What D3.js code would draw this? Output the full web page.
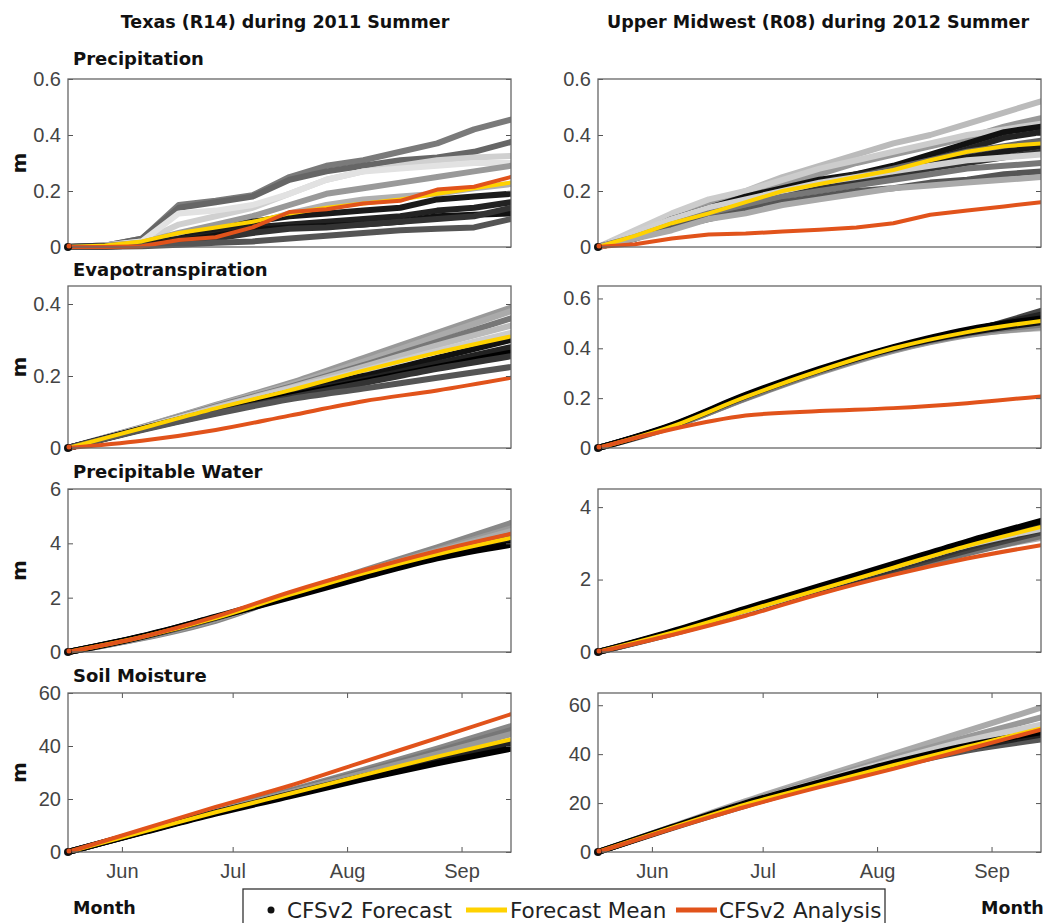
<!DOCTYPE html>
<html>
<head>
<meta charset="utf-8">
<script src="https://cdn.jsdelivr.net/npm/d3@7"></script>
<style>
  body { margin: 0; background: #fff; }
  svg { display: block; font-family: "DejaVu Sans", sans-serif; }
  .tick text { fill: #444; font-size: 20px; }
  .title { font-weight: bold; fill: #111; }
</style>
</head>
<body>
<div id="chart"></div>
<script>
// days after season start (~May 17)
var precipDays = [0, 10, 20, 30, 40, 50, 60, 70, 80, 90, 100, 110, 120];
var smoothDays = [0, 20, 40, 60, 80, 100, 120];
var monthTickDays = [14.6, 44.6, 75.6, 106.6];
var monthLabels = ["Jun", "Jul", "Aug", "Sep"];

var columnTitles = ["Texas (R14) during 2011 Summer", "Upper Midwest (R08) during 2012 Summer"];
var panelTitles = ["Precipitation", "Evapotranspiration", "Precipitable Water", "Soil Moisture"];

// y limits and ticks per panel [texas, midwest]
var yMax = [[0.6, 0.6], [0.45, 0.65], [6, 4.5], [60, 65]];
var yTicks = [
  [[0, 0.2, 0.4, 0.6], [0, 0.2, 0.4, 0.6]],
  [[0, 0.2, 0.4], [0, 0.2, 0.4, 0.6]],
  [[0, 2, 4, 6], [0, 2, 4]],
  [[0, 20, 40, 60], [0, 20, 40, 60]]
];

// ---- Texas 2011 ----
var txPrecipMembers = [
  [0, 0.005, 0.03, 0.15, 0.165, 0.185, 0.25, 0.29, 0.31, 0.34, 0.37, 0.42, 0.455],
  [0, 0.005, 0.03, 0.14, 0.16, 0.18, 0.24, 0.27, 0.29, 0.31, 0.32, 0.34, 0.375],
  [0, 0.005, 0.02, 0.08, 0.11, 0.14, 0.19, 0.24, 0.27, 0.29, 0.31, 0.32, 0.325],
  [0, 0.005, 0.02, 0.12, 0.13, 0.15, 0.19, 0.24, 0.27, 0.28, 0.29, 0.30, 0.30],
  [0, 0.005, 0.015, 0.05, 0.08, 0.11, 0.15, 0.19, 0.21, 0.23, 0.25, 0.27, 0.29],
  [0, 0.003, 0.01, 0.04, 0.06, 0.08, 0.12, 0.15, 0.17, 0.18, 0.19, 0.21, 0.225],
  [0, 0.003, 0.01, 0.03, 0.06, 0.09, 0.11, 0.12, 0.13, 0.14, 0.17, 0.18, 0.19],
  [0, 0.002, 0.008, 0.025, 0.045, 0.07, 0.08, 0.09, 0.10, 0.11, 0.13, 0.14, 0.16],
  [0, 0.002, 0.005, 0.02, 0.04, 0.06, 0.07, 0.075, 0.08, 0.09, 0.11, 0.115, 0.12],
  [0, 0.002, 0.005, 0.015, 0.03, 0.05, 0.065, 0.07, 0.08, 0.09, 0.10, 0.11, 0.14],
  [0, 0.001, 0.003, 0.008, 0.015, 0.02, 0.03, 0.04, 0.05, 0.06, 0.065, 0.07, 0.10]
];
var txPrecipShades = ["#7a7a7a", "#666", "#d0d0d0", "#e2e2e2", "#999", "#b0b0b0", "#1a1a1a", "#222", "#111", "#333", "#555"];
var txPrecipMean = [0, 0.005, 0.02, 0.05, 0.07, 0.09, 0.12, 0.14, 0.155, 0.17, 0.19, 0.21, 0.23];
var txPrecipAnalysis = [0, 0, 0.003, 0.025, 0.035, 0.07, 0.125, 0.135, 0.155, 0.165, 0.205, 0.215, 0.25];

var txEvapMembers = [
  [0, 0.058, 0.12, 0.18, 0.25, 0.32, 0.39],
  [0, 0.057, 0.118, 0.175, 0.24, 0.31, 0.38],
  [0, 0.056, 0.115, 0.17, 0.23, 0.295, 0.36],
  [0, 0.055, 0.113, 0.167, 0.225, 0.285, 0.34],
  [0, 0.055, 0.11, 0.165, 0.215, 0.27, 0.32],
  [0, 0.054, 0.105, 0.155, 0.2, 0.25, 0.30],
  [0, 0.053, 0.10, 0.15, 0.19, 0.235, 0.28],
  [0, 0.052, 0.10, 0.145, 0.185, 0.225, 0.265],
  [0, 0.051, 0.097, 0.14, 0.18, 0.22, 0.255],
  [0, 0.05, 0.095, 0.135, 0.165, 0.195, 0.225]
];
var txEvapShades = ["#999", "#aaa", "#777", "#bbb", "#ccc", "#111", "#222", "#000", "#333", "#555"];
var txEvapMean = [0, 0.055, 0.11, 0.16, 0.215, 0.265, 0.31];
var txEvapAnalysis = [0, 0.02, 0.05, 0.09, 0.13, 0.16, 0.195];

var txPwMembers = [
  [0, 0.5, 1.15, 2.1, 3.0, 3.85, 4.75],
  [0, 0.52, 1.2, 2.12, 2.95, 3.75, 4.55],
  [0, 0.53, 1.22, 2.1, 2.95, 3.7, 4.45],
  [0, 0.54, 1.24, 2.08, 2.9, 3.62, 4.3],
  [0, 0.56, 1.27, 2.05, 2.85, 3.55, 4.1],
  [0, 0.57, 1.3, 2.05, 2.8, 3.5, 4.05],
  [0, 0.58, 1.28, 2.0, 2.75, 3.45, 3.95]
];
var txPwShades = ["#888", "#999", "#aaa", "#666", "#333", "#111", "#000"];
var txPwMean = [0, 0.55, 1.25, 2.1, 2.9, 3.6, 4.2];
var txPwAnalysis = [0, 0.55, 1.3, 2.2, 3.0, 3.72, 4.35];

var txSoilMembers = [
  [0, 7.7, 15.5, 23.2, 31, 39, 47.5],
  [0, 7.6, 15.3, 22.8, 30.2, 38, 46],
  [0, 7.6, 15.2, 22.5, 29.8, 37, 44.5],
  [0, 7.5, 14.9, 21.8, 28.5, 35, 41.5],
  [0, 7.4, 14.8, 21.5, 28.2, 34.5, 40.5],
  [0, 7.3, 14.5, 21, 27.5, 33.5, 39]
];
var txSoilShades = ["#888", "#777", "#999", "#111", "#222", "#000"];
var txSoilMean = [0, 7.5, 15, 22, 29, 36, 42.5];
var txSoilAnalysis = [0, 8.5, 17, 25, 34, 43, 52];

// ---- Upper Midwest 2012 ----
var mwPrecipMembers = [
  [0, 0.05, 0.11, 0.16, 0.2, 0.25, 0.29, 0.33, 0.37, 0.40, 0.44, 0.48, 0.52],
  [0, 0.05, 0.10, 0.15, 0.19, 0.23, 0.26, 0.30, 0.33, 0.36, 0.39, 0.43, 0.46],
  [0, 0.06, 0.12, 0.17, 0.20, 0.24, 0.28, 0.31, 0.34, 0.37, 0.40, 0.42, 0.44],
  [0, 0.04, 0.10, 0.14, 0.18, 0.21, 0.24, 0.26, 0.29, 0.33, 0.37, 0.41, 0.43],
  [0, 0.045, 0.09, 0.13, 0.17, 0.20, 0.23, 0.26, 0.28, 0.31, 0.35, 0.39, 0.41],
  [0, 0.04, 0.09, 0.13, 0.16, 0.19, 0.22, 0.25, 0.28, 0.31, 0.34, 0.36, 0.38],
  [0, 0.04, 0.09, 0.12, 0.15, 0.19, 0.22, 0.24, 0.27, 0.30, 0.32, 0.34, 0.36],
  [0, 0.03, 0.08, 0.11, 0.14, 0.18, 0.21, 0.23, 0.25, 0.28, 0.30, 0.32, 0.34],
  [0, 0.05, 0.10, 0.14, 0.17, 0.20, 0.23, 0.25, 0.27, 0.29, 0.31, 0.32, 0.33],
  [0, 0.035, 0.08, 0.12, 0.15, 0.18, 0.20, 0.22, 0.24, 0.26, 0.28, 0.29, 0.30],
  [0, 0.03, 0.07, 0.10, 0.13, 0.16, 0.18, 0.20, 0.21, 0.23, 0.24, 0.26, 0.27],
  [0, 0.03, 0.06, 0.10, 0.12, 0.15, 0.17, 0.19, 0.21, 0.22, 0.23, 0.24, 0.25]
];
var mwPrecipShades = ["#bbb", "#999", "#ccc", "#111", "#222", "#666", "#1a1a1a", "#333", "#d0d0d0", "#777", "#555", "#aaa"];
var mwPrecipMean = [0, 0.04, 0.085, 0.12, 0.16, 0.20, 0.225, 0.25, 0.275, 0.31, 0.34, 0.36, 0.37];
var mwPrecipAnalysis = [0, 0.01, 0.03, 0.045, 0.048, 0.055, 0.062, 0.07, 0.085, 0.115, 0.13, 0.145, 0.16];

var mwEvapMembers = [
  [0, 0.088, 0.206, 0.31, 0.398, 0.465, 0.55],
  [0, 0.09, 0.21, 0.314, 0.402, 0.47, 0.535],
  [0, 0.084, 0.20, 0.31, 0.392, 0.455, 0.48],
  [0, 0.085, 0.198, 0.302, 0.39, 0.452, 0.485],
  [0, 0.086, 0.20, 0.306, 0.395, 0.458, 0.495],
  [0, 0.089, 0.208, 0.312, 0.40, 0.462, 0.505],
  [0, 0.092, 0.213, 0.318, 0.405, 0.475, 0.52]
];
var mwEvapShades = ["#444", "#222", "#bbb", "#999", "#777", "#111", "#000"];
var mwEvapMean = [0, 0.087, 0.205, 0.31, 0.40, 0.465, 0.51];
var mwEvapAnalysis = [0, 0.075, 0.13, 0.148, 0.16, 0.18, 0.207];

var mwPwMembers = [
  [0, 0.51, 1.08, 1.66, 2.22, 2.75, 3.15],
  [0, 0.50, 1.07, 1.65, 2.20, 2.72, 3.20],
  [0, 0.52, 1.10, 1.68, 2.25, 2.80, 3.30],
  [0, 0.53, 1.12, 1.70, 2.30, 2.88, 3.38],
  [0, 0.54, 1.14, 1.76, 2.36, 2.95, 3.40],
  [0, 0.55, 1.17, 1.78, 2.38, 2.98, 3.52],
  [0, 0.57, 1.20, 1.82, 2.43, 3.05, 3.62]
];
var mwPwShades = ["#aaa", "#777", "#444", "#333", "#ccc", "#222", "#000"];
var mwPwMean = [0, 0.53, 1.13, 1.73, 2.33, 2.93, 3.45];
var mwPwAnalysis = [0, 0.47, 1.0, 1.6, 2.13, 2.58, 2.95];

var mwSoilMembers = [
  [0, 10.4, 20.8, 30.5, 40, 49.5, 59],
  [0, 10.2, 20.3, 29.5, 38.5, 47, 55],
  [0, 10.1, 20, 28.8, 37.5, 45.5, 52],
  [0, 9.8, 19, 27.5, 35, 41.5, 46],
  [0, 10, 19.5, 28, 36, 42.5, 48],
  [0, 10.2, 20, 28.5, 36.5, 43.5, 49]
];
var mwSoilShades = ["#aaa", "#999", "#ccc", "#555", "#222", "#000"];
var mwSoilMean = [0, 10, 19.5, 27.5, 35.5, 43, 50.5];
var mwSoilAnalysis = [0, 9.5, 18.5, 26.5, 34, 42, 50];

// panel table built from the arrays above
var panels = [
  { row: 0, col: 0, days: precipDays, members: txPrecipMembers, shades: txPrecipShades, mean: txPrecipMean, analysis: txPrecipAnalysis },
  { row: 1, col: 0, days: smoothDays, members: txEvapMembers, shades: txEvapShades, mean: txEvapMean, analysis: txEvapAnalysis },
  { row: 2, col: 0, days: smoothDays, members: txPwMembers, shades: txPwShades, mean: txPwMean, analysis: txPwAnalysis },
  { row: 3, col: 0, days: smoothDays, members: txSoilMembers, shades: txSoilShades, mean: txSoilMean, analysis: txSoilAnalysis },
  { row: 0, col: 1, days: precipDays, members: mwPrecipMembers, shades: mwPrecipShades, mean: mwPrecipMean, analysis: mwPrecipAnalysis },
  { row: 1, col: 1, days: smoothDays, members: mwEvapMembers, shades: mwEvapShades, mean: mwEvapMean, analysis: mwEvapAnalysis },
  { row: 2, col: 1, days: smoothDays, members: mwPwMembers, shades: mwPwShades, mean: mwPwMean, analysis: mwPwAnalysis },
  { row: 3, col: 1, days: smoothDays, members: mwSoilMembers, shades: mwSoilShades, mean: mwSoilMean, analysis: mwSoilAnalysis }
];

// layout
var svgWidth = 1043;
var svgHeight = 923;
var colLeft = [68, 598];
var panelWidth = 443;
var rowTop = [79, 286, 489, 693];
var rowBottom = [247, 448, 652, 852];

var meanColor = "#ffd200";
var analysisColor = "#e1531b";

var svg = d3.select("#chart")
    .append("svg")
    .attr("width", svgWidth)
    .attr("height", svgHeight);

var x = d3.scaleLinear().domain([0, 120]).range([0, panelWidth]);

panels.forEach(function(p) {
    var h = rowBottom[p.row] - rowTop[p.row];
    var y = d3.scaleLinear().domain([0, yMax[p.row][p.col]]).range([h, 0]);
    var g = svg.append("g")
        .attr("transform", `translate(${colLeft[p.col]}, ${rowTop[p.row]})`);

    var clipId = "clip" + p.row + p.col;
    g.append("clipPath").attr("id", clipId)
      .append("rect").attr("x", -6).attr("y", -2).attr("width", panelWidth + 6).attr("height", h + 6);

    var curve = p.row === 0 ? d3.curveLinear : d3.curveMonotoneX;
    var line = d3.line()
        .x((v, i) => x(p.days[i]))
        .y(v => y(v))
        .curve(curve);

    var lines = g.append("g").attr("clip-path", `url(#${clipId})`);

    // ensemble members
    lines.selectAll(".member")
        .data(p.members)
        .enter()
        .append("path")
        .attr("class", "member")
        .attr("d", line)
        .attr("fill", "none")
        .attr("stroke", (d, i) => p.shades[i])
        .attr("stroke-width", 6)
        .attr("stroke-linecap", "round")
        .attr("stroke-linejoin", "round");

    lines.append("path")
        .attr("d", line(p.mean))
        .attr("fill", "none")
        .attr("stroke", meanColor)
        .attr("stroke-width", 4)
        .attr("stroke-linejoin", "round");

    lines.append("path")
        .attr("d", line(p.analysis))
        .attr("fill", "none")
        .attr("stroke", analysisColor)
        .attr("stroke-width", 4)
        .attr("stroke-linecap", "round")
        .attr("stroke-linejoin", "round");

    // axes, ticks point inward like a boxed matlab axis
    var ticks = yTicks[p.row][p.col];
    g.append("g")
        .call(d3.axisLeft(y).tickValues(ticks).tickFormat(d3.format("~g")).tickSizeInner(-5).tickSizeOuter(0).tickPadding(7))
        .call(a => a.select(".domain").remove())
        .call(a => a.selectAll(".tick line").attr("stroke", "#555"));
    g.append("g")
        .attr("transform", `translate(${panelWidth}, 0)`)
        .call(d3.axisRight(y).tickValues(ticks).tickSizeInner(-5).tickSizeOuter(0).tickFormat(""))
        .call(a => a.select(".domain").remove())
        .call(a => a.selectAll(".tick line").attr("stroke", "#555"));

    if (p.row === 3) {
        g.append("g")
            .attr("transform", `translate(0, ${h})`)
            .call(d3.axisBottom(x).tickValues(monthTickDays).tickFormat((d, i) => monthLabels[i]).tickSizeInner(-5).tickSizeOuter(0).tickPadding(12))
            .call(a => a.select(".domain").remove())
            .call(a => a.selectAll(".tick line").attr("stroke", "#555"));
        g.append("g")
            .call(d3.axisTop(x).tickValues(monthTickDays).tickSizeInner(-5).tickSizeOuter(0).tickFormat(""))
            .call(a => a.select(".domain").remove())
            .call(a => a.selectAll(".tick line").attr("stroke", "#555"));
    }

    g.append("rect")
        .attr("width", panelWidth)
        .attr("height", h)
        .attr("fill", "none")
        .attr("stroke", "#666")
        .attr("stroke-width", 1.3);

    // start marker of the forecasts
    g.append("circle").attr("cx", 0).attr("cy", h).attr("r", 4).attr("fill", "#111");
    g.append("circle").attr("cx", 1).attr("cy", h - 1).attr("r", 2.5).attr("fill", analysisColor);
});

// column titles
svg.selectAll(".coltitle")
    .data(columnTitles)
    .enter()
    .append("text")
    .attr("class", "title")
    .attr("x", (d, i) => [285, 818][i])
    .attr("y", 28)
    .attr("text-anchor", "middle")
    .attr("font-size", "17.5px")
    .text(d => d);

// panel titles (left column only)
svg.selectAll(".ptitle")
    .data(panelTitles)
    .enter()
    .append("text")
    .attr("class", "title")
    .attr("x", 73)
    .attr("y", (d, i) => [65, 276, 478, 682][i])
    .attr("font-size", "18px")
    .text(d => d);

// y labels "m"
rowTop.forEach(function(t, i) {
    var mid = (t + rowBottom[i]) / 2;
    svg.append("text")
        .attr("class", "title")
        .attr("transform", `translate(26, ${mid}) rotate(-90)`)
        .attr("text-anchor", "middle")
        .attr("font-size", "20px")
        .text("m");
});

// x labels
[73, 981].forEach(function(xx) {
    svg.append("text")
        .attr("class", "title")
        .attr("x", xx)
        .attr("y", 914)
        .attr("font-size", "17.5px")
        .text("Month");
});

// legend
var legend = svg.append("g");
legend.append("rect")
    .attr("x", 243).attr("y", 889)
    .attr("width", 642).attr("height", 50)
    .attr("fill", "#fff").attr("stroke", "#333").attr("stroke-width", 1.3);
legend.append("circle").attr("cx", 271).attr("cy", 910).attr("r", 3.5).attr("fill", "#111");
legend.append("line").attr("x1", 466).attr("x2", 507).attr("y1", 910).attr("y2", 910)
    .attr("stroke", meanColor).attr("stroke-width", 5);
legend.append("line").attr("x1", 676).attr("x2", 717).attr("y1", 910).attr("y2", 910)
    .attr("stroke", analysisColor).attr("stroke-width", 5);
var legendLabels = ["CFSv2 Forecast", "Forecast Mean", "CFSv2 Analysis"];
legend.selectAll(".ltext")
    .data(legendLabels)
    .enter()
    .append("text")
    .attr("x", (d, i) => [287, 510, 719][i])
    .attr("y", 918)
    .attr("font-size", "21.5px")
    .attr("fill", "#222")
    .text(d => d);
</script>
</body>
</html>
